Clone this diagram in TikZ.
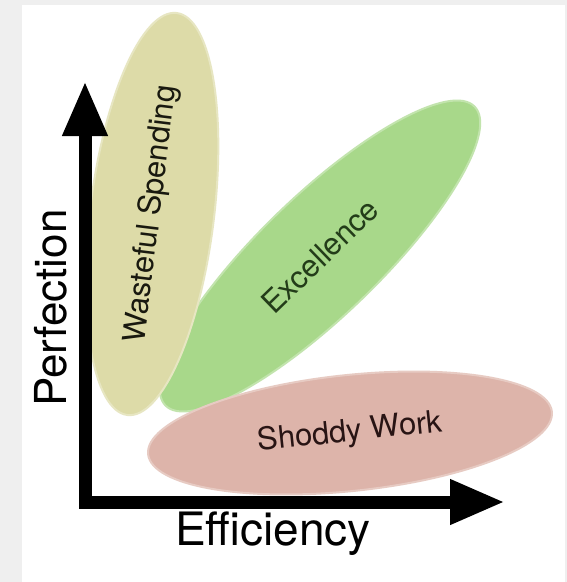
\documentclass[tikz,border=0pt]{standalone}
\usepackage{fontspec}
\setmainfont{TeX Gyre Heros}
\usetikzlibrary{shapes.geometric,arrows.meta}
\definecolor{wastecol}{RGB}{221,219,168}
\definecolor{excelcol}{RGB}{168,216,138}
\definecolor{shoddycol}{RGB}{221,180,170}
\definecolor{framegray}{RGB}{239,239,239}
\tikzstyle{blob}=[ellipse, fill=#1, draw=#1!70!white, line width=2pt, inner sep=0pt, font=\fontsize{31}{31}\selectfont]
\tikzstyle{axis}=[line width=13pt, {Triangle[length=55pt,width=42pt]}-{Triangle[length=55pt,width=42pt]}]
\tikzstyle{axislabel}=[inner sep=0pt]

\begin{document}
\begin{tikzpicture}[x=1pt,y=-1pt]

					\fill[framegray] (0,0) rectangle (567,582);
					\fill[white] (22,5) rectangle (565,582);
					\useasboundingbox (0,0) rectangle (567,582);

					\node[blob=excelcol, minimum width=430pt, minimum height=120pt, rotate=44, text={rgb,255:red,35;green,60;blue,25}] (excel) at (320,256) {Excellence};
					\node[blob=wastecol, minimum width=405pt, minimum height=124pt, rotate=83, text={rgb,255:red,25;green,25;blue,15}] (waste) at (152,214) {Wasteful Spending};
					\node[blob=shoddycol, minimum width=406pt, minimum height=116pt, rotate=6, text={rgb,255:red,40;green,20;blue,20}] (shoddy) at (350,433) {Shoddy Work};

					\coordinate (ytip) at (85,81);
					\coordinate (xtip) at (505,502);
					\draw[axis] (ytip) |- (xtip);

					\node[axislabel, rotate=90, font=\fontsize{44}{44}\selectfont] (perf) at (51,308) {Perfection};
					\node[axislabel, anchor=base, font=\fontsize{46}{46}\selectfont] (effic) at (273,545) {Efficiency};

				\end{tikzpicture}
\end{document}
